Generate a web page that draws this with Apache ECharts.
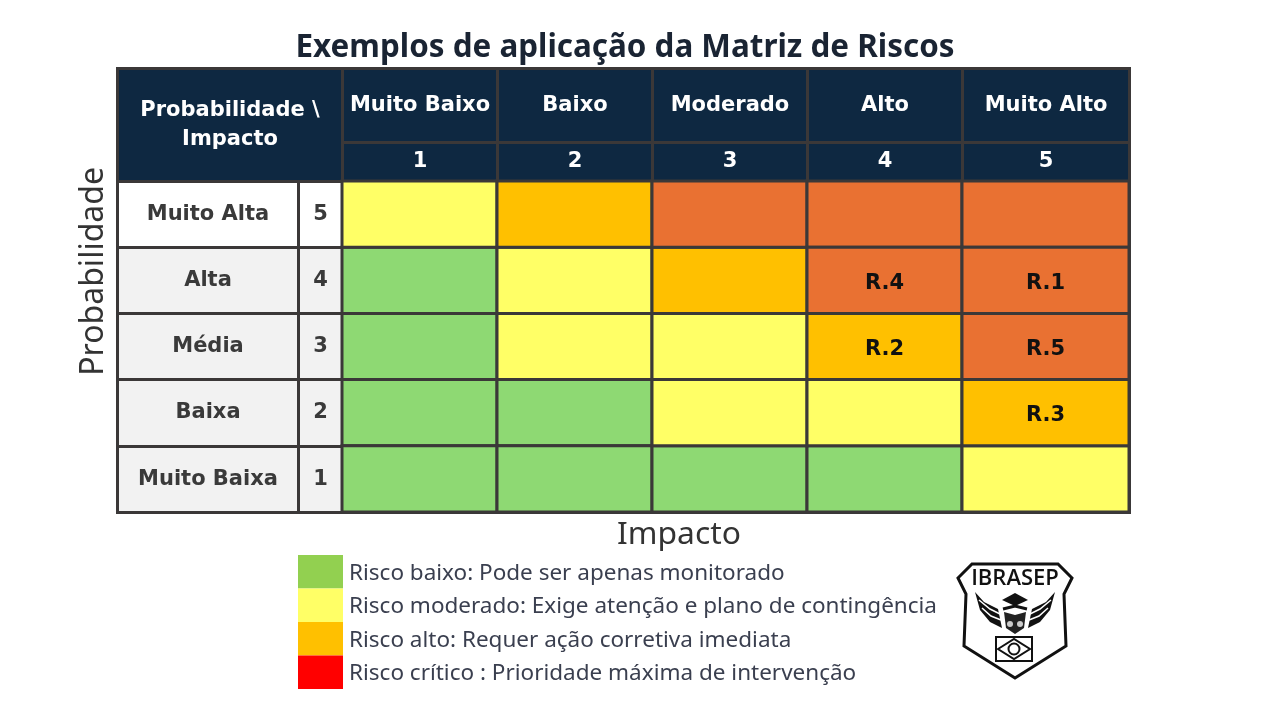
<!DOCTYPE html>
<html lang="pt-br">
<head>
  <meta charset="UTF-8" />
  <title>Exemplos de aplicação da Matriz de Riscos</title>
  <script src="https://cdn.jsdelivr.net/npm/echarts@6/dist/echarts.min.js"></script>
  <style>
    html, body { margin: 0; padding: 0; background: #fff; }
    #chart { width: 1280px; height: 720px; }
  </style>
</head>
<body>
  <div id="chart"></div>
  <script>
    const impactNames = ["Muito Baixo", "Baixo", "Moderado", "Alto", "Muito Alto"];
    const impactLevels = ["1", "2", "3", "4", "5"];
    const probNames = ["Muito Alta", "Alta", "Média", "Baixa", "Muito Baixa"];
    const probLevels = ["5", "4", "3", "2", "1"];

    // nivel de risco por linha (de cima para baixo): 0 baixo, 1 moderado, 2 alto, 3 critico
    const row5 = [1, 2, 3, 3, 3];
    const row4 = [0, 1, 2, 3, 3];
    const row3 = [0, 1, 1, 2, 3];
    const row2 = [0, 0, 1, 1, 2];
    const row1 = [0, 0, 0, 0, 1];
    const riskRows = [row5, row4, row3, row2, row1];

    const riskTags = [["R.4", "4", "4"], ["R.1", "5", "4"], ["R.2", "4", "3"], ["R.5", "5", "3"], ["R.3", "5", "2"]];

    const legendLabels = [
      "Risco baixo: Pode ser apenas monitorado",
      "Risco moderado: Exige atenção e plano de contingência",
      "Risco alto: Requer ação corretiva imediata",
      "Risco crítico : Prioridade máxima de intervenção"
    ];
    const cellColors = ["#8ED973", "#FFFF66", "#FFC000", "#E97132"];
    const legendColors = ["#92D050", "#FFFF66", "#FFC000", "#FF0000"];

    const NAVY = "#0E2841";
    const LINE = "#3B3838";
    const FONT = "'DejaVu Sans', sans-serif";

    const chart = echarts.init(document.getElementById("chart"));

    function tagFor(col, row) {
      const t = riskTags.find(d => d[1] === col && d[2] === row);
      return t ? t[0] : "";
    }

    const series = legendLabels.map((name, level) => {
      const data = [];
      riskRows.forEach((cols, r) => cols.forEach((v, c) => {
        if (v === level) data.push({ value: [impactLevels[c], probLevels[r], v], name: tagFor(impactLevels[c], probLevels[r]) });
      }));
      return {
        name: name,
        type: "heatmap",
        coordinateSystem: "matrix",
        data: data,
        itemStyle: { color: cellColors[level], borderColor: LINE, borderWidth: 3 },
        label: {
          show: true,
          formatter: p => p.name,
          color: "#111",
          fontFamily: FONT,
          fontWeight: "bold",
          fontSize: 21,
          offset: [0, 3]
        },
        emphasis: { disabled: true }
      };
    });

    const headerLabel = { color: "#fff", fontFamily: FONT, fontWeight: "bold", fontSize: 21 };
    const rowLabel = { color: "#3a3a3a", fontFamily: FONT, fontWeight: "bold", fontSize: 21 };
    const cellBorder = { borderColor: LINE, borderWidth: 3 };

    chart.setOption({
      backgroundColor: "#fff",
      animation: false,
      title: {
        text: "Exemplos de aplicação da Matriz de Riscos",
        left: 620, top: 28, textAlign: "center",
        textStyle: { color: "#1a2433", fontFamily: "'Noto Sans', sans-serif", fontWeight: "bold", fontSize: 31.4 }
      },
      legend: {
        left: 298, top: 555, padding: 0,
        orient: "vertical",
        itemWidth: 45, itemHeight: 33.5, itemGap: 0,
        icon: "rect",
        selectedMode: false,
        formatter: name => "{a|" + name + "}",
        textStyle: { rich: { a: { color: "#3a3f4f", fontFamily: "'Noto Sans', sans-serif", fontSize: 22.5, padding: [3, 0, 0, 1] } } },
        data: legendLabels.map((name, i) => ({ name: name, itemStyle: { color: legendColors[i], borderWidth: 0 } }))
      },
      matrix: {
        left: 117, top: 68, width: 1012, height: 444,
        backgroundStyle: { color: "#fff", borderColor: LINE, borderWidth: 3 },
        x: {
          levels: [{ levelSize: 74 }, { levelSize: 39 }],
          label: headerLabel,
          itemStyle: { color: NAVY, ...cellBorder },
          dividerLineStyle: { color: LINE, width: 3 },
          data: impactNames.map((name, i) => ({
            value: name,
            size: i === 4 ? 167 : 155,
            children: [{ value: impactLevels[i], size: i === 4 ? 167 : 155 }]
          }))
        },
        y: {
          levels: [{ levelSize: 181 }, { levelSize: 44 }],
          label: rowLabel,
          itemStyle: { color: "#F2F2F2", ...cellBorder },
          dividerLineStyle: { color: LINE, width: 3 },
          data: probNames.map((name, i) => ({
            value: name,
            itemStyle: { color: i === 0 ? "#fff" : "#F2F2F2" },
            children: [{ value: probLevels[i], itemStyle: { color: i === 0 ? "#fff" : "#F2F2F2" } }]
          }))
        },
        body: { itemStyle: cellBorder },
        corner: {
          itemStyle: { color: NAVY, ...cellBorder },
          label: { ...headerLabel, lineHeight: 29 },
          data: [{ coord: [[-2, -1], [-2, -1]], mergeCells: true, value: "Probabilidade \\\nImpacto", itemStyle: { color: NAVY } }]
        }
      },
      series: series,
      graphic: [
        { type: "text", left: 78, top: 167, rotation: Math.PI / 2, style: { text: "Probabilidade", font: "32px 'Noto Sans', sans-serif", fill: "#333" } },
        { type: "text", x: 679, y: 535, style: { text: "Impacto", align: "center", verticalAlign: "middle", font: "31.8px 'Noto Sans', sans-serif", fill: "#333" } },
        // logo
        { type: "polygon", shape: { points: [[972,564],[1058,564],[1072,578],[1064,594],[1066,646],[1015,678],[964,646],[966,594],[958,578]] }, style: { fill: "#fff", stroke: "#111", lineWidth: 3 } },
        { type: "text", x: 1015, y: 579, style: { text: "IBRASEP", align: "center", verticalAlign: "middle", font: "600 22px 'Open Sans', sans-serif", fill: "#111" } },
        { type: "polygon", shape: { points: [[1015,593],[1028,600],[1015,606],[1002,600]] }, style: { fill: "#111" } },
        { type: "polyline", shape: { points: [[1003,609],[1015,606],[1027,609]] }, style: { stroke: "#111", lineWidth: 3, fill: "none" } },
        { type: "polygon", shape: { points: [[975,592],[984,602],[998,609],[1002,628],[990,622],[980,610]] }, style: { fill: "#111" } },
        { type: "polygon", shape: { points: [[1055,592],[1046,602],[1032,609],[1028,628],[1040,622],[1050,610]] }, style: { fill: "#111" } },
        { type: "polyline", shape: { points: [[979,600],[990,609],[1000,614]] }, style: { stroke: "#fff", lineWidth: 1.5, fill: "none" } },
        { type: "polyline", shape: { points: [[982,608],[991,616],[1001,620]] }, style: { stroke: "#fff", lineWidth: 1.5, fill: "none" } },
        { type: "polyline", shape: { points: [[1051,600],[1040,609],[1030,614]] }, style: { stroke: "#fff", lineWidth: 1.5, fill: "none" } },
        { type: "polyline", shape: { points: [[1048,608],[1039,616],[1029,620]] }, style: { stroke: "#fff", lineWidth: 1.5, fill: "none" } },
        { type: "polygon", shape: { points: [[1004,612],[1015,615],[1026,612],[1024,628],[1015,634],[1006,628]] }, style: { fill: "#222" } },
        { type: "circle", shape: { cx: 1010, cy: 624, r: 3 }, style: { fill: "#ccc" } },
        { type: "circle", shape: { cx: 1020, cy: 624, r: 3 }, style: { fill: "#ccc" } },
        { type: "rect", shape: { x: 996, y: 637, width: 36, height: 24 }, style: { fill: "#fff", stroke: "#111", lineWidth: 2 } },
        { type: "polygon", shape: { points: [[998,649],[1014,639],[1030,649],[1014,659]] }, style: { fill: "#fff", stroke: "#111", lineWidth: 2 } },
        { type: "circle", shape: { cx: 1014, cy: 649, r: 5.5 }, style: { fill: "#fff", stroke: "#111", lineWidth: 2 } }
      ]
    });
  </script>
</body>
</html>
